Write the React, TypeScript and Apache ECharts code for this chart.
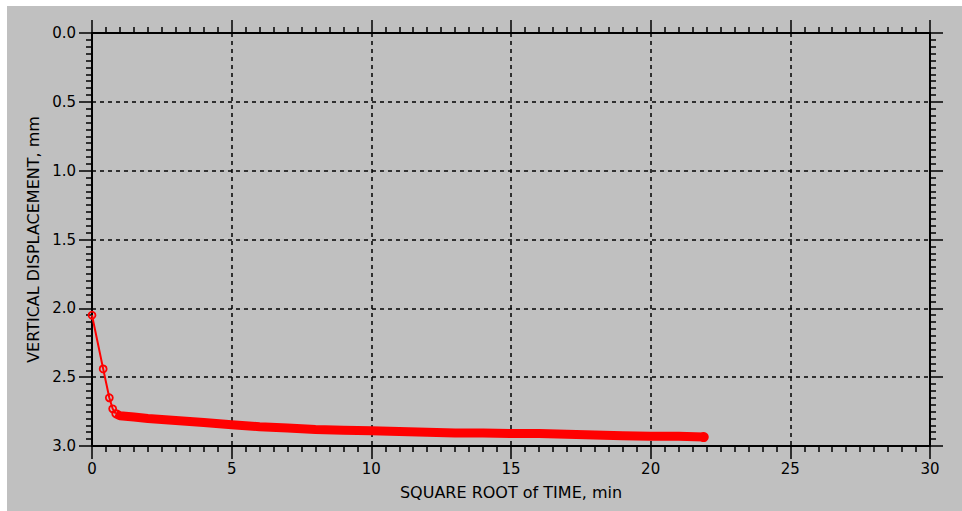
import React, { useEffect, useRef } from "react";
import * as echarts from "echarts";

// Early readings: square root of time (min^0.5) vs vertical displacement (mm)
const earlyRootTime = [0, 0.4, 0.62, 0.74, 0.85];
const earlyDisplacement = [2.05, 2.44, 2.65, 2.73, 2.765];

// Densely logged readings that form the thick trace
const laterRootTime = [0.85, 1.0, 1.5, 2.0, 3.0, 4.0, 5.0, 6.0, 7.0, 8.0, 9.0, 10.0, 11.0, 12.0, 13.0, 14.0, 15.0, 16.0, 17.0, 18.0, 19.0, 20.0, 21.0, 21.9];
const laterDisplacement = [2.765, 2.78, 2.79, 2.8, 2.815, 2.83, 2.845, 2.86, 2.87, 2.88, 2.885, 2.89, 2.895, 2.9, 2.905, 2.905, 2.91, 2.91, 2.915, 2.92, 2.925, 2.93, 2.93, 2.935];

const xTicks = [0, 5, 10, 15, 20, 25, 30];
const yTicks = ["0.0", "0.5", "1.0", "1.5", "2.0", "2.5", "3.0"];

const FONT = "DejaVu Sans";
const BLACK = "#000000";
const RED = "#ff0000";

export default function App() {
  const ref = useRef<HTMLDivElement>(null);

  useEffect(() => {
    if (!ref.current) return;
    const chart = echarts.init(ref.current, undefined, { renderer: "svg" });

    const axisLine = { show: true, onZero: false, lineStyle: { color: BLACK, width: 2 } };
    const axisTick = { show: true, inside: false, length: 13, lineStyle: { color: BLACK, width: 1.5 } };
    const minorTick = { show: true, splitNumber: 10, length: 6, lineStyle: { color: BLACK, width: 1.5 } };
    const dashed = { show: true, lineStyle: { color: BLACK, width: 1.5, type: [4, 4] as number[] } };

    const xBase = {
      type: "value" as const,
      min: xTicks[0],
      max: xTicks[xTicks.length - 1],
      interval: 5,
      axisLine,
      axisTick,
      minorTick,
    };
    const yBase = {
      type: "value" as const,
      min: 0,
      max: 3,
      interval: 0.5,
      inverse: true,
      axisLine,
      axisTick,
      minorTick,
    };

    const early = earlyRootTime.map((x, i) => [x, earlyDisplacement[i]]);
    const later = laterRootTime.map((x, i) =>
      i === laterRootTime.length - 1
        ? { value: [x, laterDisplacement[i]], symbol: "circle", symbolSize: 10 }
        : [x, laterDisplacement[i]]
    );

    chart.setOption({
      animation: false,
      backgroundColor: "#c0c0c0",
      grid: { left: 85, top: 27, right: 32, bottom: 65, containLabel: false },
      xAxis: [
        {
          ...xBase,
          position: "bottom",
          name: "SQUARE ROOT of TIME, min",
          nameLocation: "middle",
          nameGap: 38,
          nameTextStyle: { color: BLACK, fontFamily: FONT, fontSize: 16 },
          axisLabel: {
            color: BLACK,
            fontFamily: FONT,
            fontSize: 15,
            margin: 15,
            formatter: (v: number) => (xTicks.includes(v) ? String(v) : ""),
          },
          splitLine: dashed,
        },
        {
          ...xBase,
          position: "top",
          axisLabel: { show: false },
          splitLine: { show: false },
        },
      ],
      yAxis: [
        {
          ...yBase,
          position: "left",
          name: "VERTICAL DISPLACEMENT, mm",
          nameLocation: "middle",
          nameGap: 50,
          nameTextStyle: { color: BLACK, fontFamily: FONT, fontSize: 16 },
          axisLabel: {
            color: BLACK,
            fontFamily: FONT,
            fontSize: 15,
            margin: 16,
            formatter: (v: number) => yTicks[Math.round(v / 0.5)] ?? "",
          },
          splitLine: dashed,
        },
        {
          ...yBase,
          position: "right",
          axisLabel: { show: false },
          splitLine: { show: false },
        },
      ],
      series: [
        {
          type: "line",
          xAxisIndex: 0,
          yAxisIndex: 0,
          data: early,
          symbol: "circle",
          symbolSize: 7,
          itemStyle: { color: "rgba(0,0,0,0)", borderColor: RED, borderWidth: 1.8 },
          lineStyle: { color: RED, width: 2 },
          z: 3,
        },
        {
          type: "line",
          xAxisIndex: 0,
          yAxisIndex: 0,
          data: later,
          symbol: "none",
          showSymbol: true,
          itemStyle: { color: RED },
          lineStyle: { color: RED, width: 9, cap: "butt" },
          z: 4,
        },
      ],
    });

    return () => chart.dispose();
  }, []);

  return (
    <div style={{ position: "fixed", inset: 0, background: "#ffffff" }}>
      <div
        ref={ref}
        style={{ position: "absolute", left: 7, top: 6, width: 955, height: 505 }}
      />
    </div>
  );
}
